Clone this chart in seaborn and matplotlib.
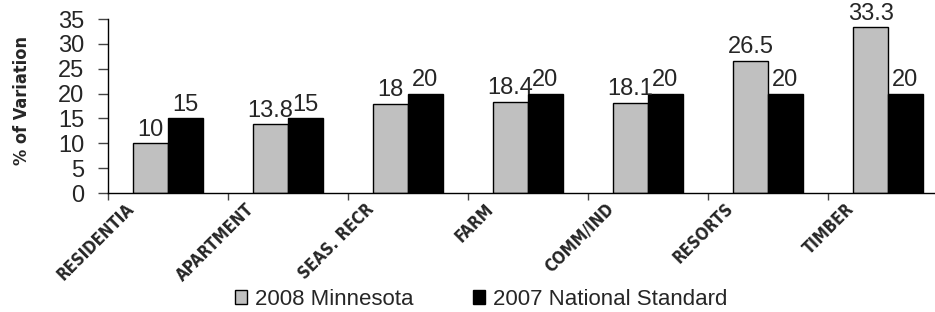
import pandas as pd
import matplotlib
matplotlib.use("Agg")
import matplotlib.pyplot as plt
import seaborn as sns

# values
categories = ["RESIDENTIA", "APARTMENT", "SEAS. RECR", "FARM", "COMM/IND", "RESORTS", "TIMBER"]
minnesota_2008 = [10, 13.8, 18, 18.4, 18.1, 26.5, 33.3]
national_2007 = [15, 15, 20, 20, 20, 20, 20]
series_names = ["2008 Minnesota", "2007 National Standard"]

df = pd.DataFrame({
    "Category": categories * 2,
    "Value": minnesota_2008 + national_2007,
    "Series": [series_names[0]] * len(categories) + [series_names[1]] * len(categories),
})

sns.set_style("white")
plt.rcParams["font.family"] = ["Liberation Sans", "DejaVu Sans"]
narrow = ["DejaVu Sans"]

fig = plt.figure(figsize=(9.35, 3.12), dpi=100)
ax = fig.add_axes([108 / 935, 119 / 312, 840 / 935, 174 / 312])

sns.barplot(data=df, x="Category", y="Value", hue="Series",
            palette=["#c0c0c0", "#000000"], width=0.58,
            edgecolor="black", linewidth=1, ax=ax, legend=True)

for cont, vals in zip(ax.containers, [minnesota_2008, national_2007]):
    ax.bar_label(cont, labels=[f"{v:g}" for v in vals], padding=2, fontsize=17)

ax.set_ylim(0, 35)
ax.set_yticks(range(0, 36, 5))
ax.tick_params(axis="y", labelsize=17, length=7, width=1, direction="out", left=True,
               color="#444444", pad=10)
ax.set_xlim(-0.5, len(categories) - 0.5)

# tick marks between categories, labels on minor ticks
ax.set_xticks([i - 0.5 for i in range(len(categories))])
ax.set_xticklabels([])
ax.tick_params(axis="x", which="major", length=5, width=1, direction="out", bottom=True, color="#444444")
ax.set_xticks([i - 0.36 for i in range(len(categories))], minor=True)
ax.set_xticklabels(categories, minor=True, rotation=45, ha="right", rotation_mode="anchor",
                   fontsize=12, fontweight="bold", fontstretch="condensed", family=narrow)
ax.tick_params(axis="x", which="minor", length=0, pad=5)

ax.set_xlabel("")
ax.set_ylabel("% of Variation", fontsize=13, fontweight="bold", fontstretch="condensed", family=narrow)
ax.yaxis.set_label_coords(-0.092, 0.53)

sns.despine(ax=ax)
for s in ["left", "bottom"]:
    ax.spines[s].set_color("black")
    ax.spines[s].set_linewidth(1)

handles, labels = ax.get_legend_handles_labels()
ax.get_legend().remove()
fig.legend(handles, labels, loc="center", bbox_to_anchor=(0.5145, 0.04), ncol=2,
           frameon=False, fontsize=16, handlelength=0.55, handleheight=0.55,
           handletextpad=0.35, columnspacing=2.7)

fig.savefig("out.png", dpi=100)
